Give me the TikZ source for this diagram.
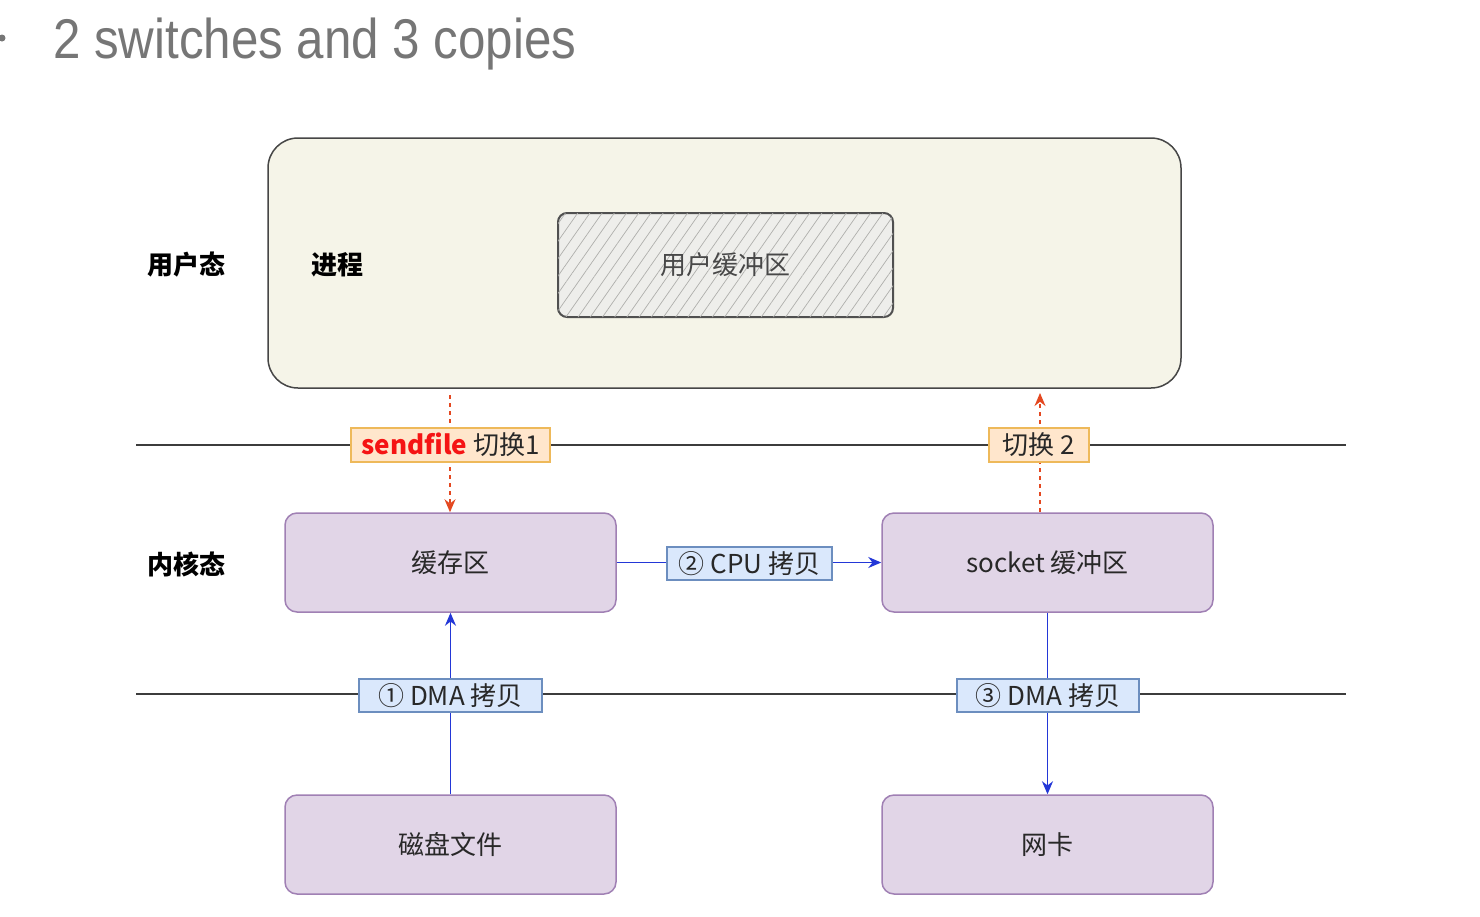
\documentclass[tikz,border=0pt]{standalone}
\usepackage{fontspec}
\setmainfont{Noto Sans CJK SC}
\newfontfamily\titlefont{Liberation Sans}
\usetikzlibrary{arrows.meta,patterns.meta}
\definecolor{titlegray}{RGB}{118,118,118}
\definecolor{procfill}{RGB}{245,244,232}
\definecolor{procline}{RGB}{70,70,70}
\definecolor{buffill}{RGB}{238,238,235}
\definecolor{hatchc}{RGB}{175,175,172}
\definecolor{bufline}{RGB}{80,80,80}
\definecolor{purfill}{RGB}{225,213,231}
\definecolor{purline}{RGB}{160,128,180}
\definecolor{bluefill}{RGB}{218,232,252}
\definecolor{blueline}{RGB}{108,142,191}
\definecolor{orfill}{RGB}{255,230,204}
\definecolor{orline}{RGB}{238,185,90}
\definecolor{arrblue}{RGB}{35,55,215}
\definecolor{arrred}{RGB}{228,72,32}
\definecolor{sepline}{RGB}{60,60,60}
\definecolor{txtdark}{RGB}{40,40,40}
\definecolor{redtxt}{RGB}{245,20,20}
\begin{document}
\begin{tikzpicture}[x=1pt,y=-1pt,
  procbox/.style={draw=procline,line width=1.5pt,fill=procfill,rounded corners=30pt,minimum width=913pt,minimum height=250pt,inner sep=0pt},
  bufbox/.style={draw=bufline,line width=2pt,fill=buffill,rounded corners=9pt,minimum width=335pt,minimum height=104pt,
     postaction={pattern={Lines[angle=55,distance=10pt,line width=0.7pt]},pattern color=hatchc},
     text=txtdark!85,font=\fontsize{26}{26}\selectfont},
  kbox/.style={draw=purline,line width=1.5pt,fill=purfill,rounded corners=12pt,minimum width=331pt,minimum height=99pt,inner sep=0pt,
     text=txtdark,font=\fontsize{26}{26}\selectfont},
  sidelabel/.style={font=\fontsize{26}{26}\selectfont\bfseries,text=black},
  orlabel/.style={draw=orline,line width=1.1pt,fill=orfill,minimum height=34pt,inner sep=0pt,text=txtdark,font=\fontsize{26}{26}\selectfont},
  bllabel/.style={draw=blueline,line width=1.1pt,fill=bluefill,minimum height=33pt,inner sep=0pt,text=txtdark,font=\fontsize{26}{26}\selectfont},
  sep/.style={draw=sepline,line width=1.6pt},
  bluearrow/.style={draw=arrblue,line width=1.8pt,-{Stealth[length=13pt,width=11pt]}},
  redarrow/.style={draw=arrred,line width=1.5pt,dash pattern=on 4pt off 4pt,-{Stealth[length=13pt,width=11pt]}}
]
\useasboundingbox (0,0) rectangle (1480,916);
\fill[white] (0,0) rectangle (1480,916);

% title
\fill[titlegray] (2,38) circle (3.5);
\node[anchor=base west,inner sep=0pt,text=titlegray,font=\titlefont\fontsize{56}{56}\selectfont] (title) at (53,58) {\scalebox{0.88}[1]{2 switches and 3 copies}};

% separators
\coordinate (s1a) at (136,445);
\coordinate (s1b) at (1346,445);
\coordinate (s2a) at (136,694);
\coordinate (s2b) at (1346,694);
\draw[sep] (s1a) -- (s1b);
\draw[sep] (s2a) -- (s2b);

% user space
\node[procbox] (proc) at (724.5,263) {};
\node[bufbox] (buf) at (725.5,265) {用户缓冲区};
\node[sidelabel] (user) at (186,265) {用户态};
\node[sidelabel] (prog) at (337,265) {进程};

% kernel
\node[kbox] (cache) at (450.5,562.5) {缓存区};
\node[kbox] (sock) at (1047.5,562.5) {socket 缓冲区};
\node[kbox] (disk) at (450.5,844.5) {磁盘文件};
\node[kbox] (nic) at (1047.5,844.5) {网卡};
\node[sidelabel] (kern) at (186,564) {内核态};

% switch arrows
\coordinate (r1s) at (450,395);
\coordinate (r2e) at (1040,393);
\coordinate (r2s) at (1040,512);
\draw[redarrow] (r1s) -- (cache.north -| r1s);
\draw[redarrow] (r2s) -- (r2e);
\node[orlabel,minimum width=199pt] (sw1) at (450.5,445) {\textcolor{redtxt}{\bfseries sendfile} 切换1};
\node[orlabel,minimum width=100pt] (sw2) at (1039,445) {切换 2};

% copy arrows
\draw[bluearrow] (cache.east) -- (sock.west);
\draw[bluearrow] (disk.north) -- (cache.south);
\draw[bluearrow] (sock.south) -- (nic.north);
\node[bllabel,minimum width=165pt] (cpu) at (749.5,563.5) {② CPU 拷贝};
\node[bllabel,minimum width=183pt] (dma1) at (450.5,695.5) {① DMA 拷贝};
\node[bllabel,minimum width=182pt] (dma3) at (1048,695.5) {③ DMA 拷贝};
\end{tikzpicture}
\end{document}
